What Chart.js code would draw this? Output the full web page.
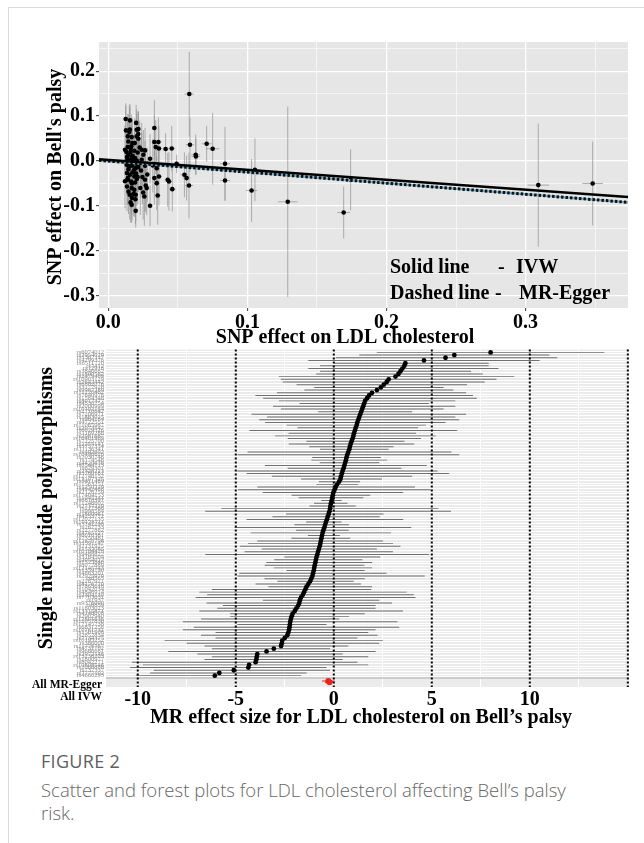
<!DOCTYPE html>
<html>
<head>
<meta charset="utf-8">
<script src="https://cdn.jsdelivr.net/npm/chart.js@4.4.1/dist/chart.umd.min.js"></script>
<style>
html,body{margin:0;padding:0;background:#fff;width:644px;height:843px;overflow:hidden;}
#card{position:absolute;left:8px;top:7px;width:650px;height:850px;border-left:1px solid #d9d9d9;border-top:1px solid #d9d9d9;}
#topWrap{position:absolute;left:0;top:0;width:644px;height:350px;}
#forestWrap{position:absolute;left:0;top:330px;width:644px;height:410px;}
#caption{position:absolute;left:41px;top:750px;width:548px;font-family:"Open Sans",Lato,sans-serif;}
#caption .fig{font-size:18px;line-height:23px;letter-spacing:0.3px;color:#5e5e5e;}
#caption .cap{font-size:18.5px;line-height:23px;margin-top:5px;font-weight:300;color:#666;}
</style>
</head>
<body>
<div id="card"></div>
<div id="topWrap"><canvas id="scatterCanvas"></canvas></div>
<div id="forestWrap"><canvas id="forestCanvas"></canvas></div>
<div id="caption"><div class="fig">FIGURE 2</div><div class="cap">Scatter and forest plots for LDL cholesterol affecting Bell’s palsy risk.</div></div>
<script>
// ---------------- DATA: scatter (SNP effects) ----------------
const snpLdl = [
 0.0125,0.0156,0.0127,0.0151,0.0204,0.0216,0.0168,0.0144,0.0173,0.0204,
 0.0216,0.0139,0.0163,0.0187,0.0211,0.0144,0.0134,0.0168,0.0192,0.0156,
 0.0180,0.0204,0.0228,0.0132,0.0149,0.0173,0.0197,0.0216,0.0134,0.0156,
 0.0173,0.0187,0.0211,0.0139,0.0163,0.0192,0.0134,0.0168,0.0187,0.0154,
 0.0182,0.0197,0.0168,0.0197,0.0240,0.0264,0.0252,0.0240,0.0264,0.0235,
 0.0245,0.0264,0.0269,0.0276,0.0259,0.0300,0.0331,0.0331,0.0360,0.0341,
 0.0364,0.0412,0.0456,0.0348,0.0331,0.0364,0.0348,0.0427,0.0436,0.0460,
 0.0355,0.0491,0.0547,0.0563,0.0580,0.0582,0.0587,0.0628,0.0630,0.0707,
 0.0750,0.0839,0.0839,0.1030,0.1054,0.1290,0.1692,0.1742,0.3091,0.3482,
 0.0140,0.0160,0.0175,0.0150,0.0185,0.0140,0.0200,0.0170,0.0210,0.0130,
 0.0190,0.0155,0.0225,0.0145,0.0195,0.0160,0.0230,0.0120,0.0135,0.0178,
 0.0205,0.0165,0.0250,0.0280,0.0300,0.0320,0.0215,0.0120,0.0145,0.0200,
 0.0170];
const snpBell = [
 0.0935,0.0905,0.0683,0.0645,0.0697,0.0712,0.0534,0.0437,0.0400,0.0549,
 0.0497,0.0311,0.0252,0.0229,0.0192,0.0140,0.0088,0.0103,0.0066,0.0029,
 -0.0008,0.0014,-0.0045,-0.0082,-0.0120,-0.0105,-0.0157,-0.0134,-0.0268,-0.0305,
 -0.0253,-0.0342,-0.0357,-0.0417,-0.0454,-0.0476,-0.0565,-0.0602,-0.0640,-0.0751,
 -0.0729,-0.0751,-0.0974,-0.1108,0.0252,0.0237,0.0140,0.0029,-0.0105,-0.0209,
 -0.0357,-0.0417,-0.0543,-0.0602,-0.0788,-0.0996,0.0735,0.0423,0.0423,0.0311,
 0.0281,0.0267,0.0281,-0.0157,-0.0379,-0.0342,-0.0491,-0.0417,-0.0454,-0.0625,
 -0.0766,-0.0060,-0.0305,-0.0379,-0.0543,0.1492,0.0363,0.0140,0.0103,0.0385,
 0.0274,-0.0060,-0.0432,-0.0654,-0.0194,-0.0907,-0.1145,-0.0417,-0.0535,-0.0500,
 0.055,0.020,0.012,-0.005,-0.020,-0.038,-0.028,-0.050,-0.008,0.020,
 0.040,0.070,0.030,-0.068,-0.085,-0.092,-0.060,-0.045,0.001,0.004,
 -0.040,0.033,-0.070,-0.030,0.005,-0.010,0.060,0.025,-0.018,0.085,
 -0.082];
const snpLdlSe = [
 .0015,.0015,.0012,.0015,.0015,.0015,.0012,.0012,.0013,.0014,
 .0015,.0012,.0012,.0014,.0015,.0012,.0012,.0013,.0014,.0012,
 .0013,.0015,.0016,.0012,.0012,.0013,.0014,.0015,.0012,.0013,
 .0013,.0014,.0015,.0012,.0013,.0014,.0012,.0013,.0014,.0012,
 .0013,.0014,.0013,.0014,.0016,.0017,.0016,.0016,.0017,.0016,
 .0016,.0017,.0017,.0018,.0017,.0018,.0020,.0020,.0021,.0020,
 .0021,.0023,.0024,.0020,.0020,.0021,.0020,.0023,.0023,.0024,
 .0021,.0025,.0028,.0028,.0029,.0034,.0030,.0031,.0031,.0035,
 .0048,.0036,.0036,.0040,.0042,.0070,.0045,.0045,.0077,.0074,
 .0012,.0013,.0013,.0012,.0014,.0012,.0015,.0013,.0015,.0012,
 .0014,.0012,.0016,.0012,.0014,.0013,.0016,.0011,.0012,.0013,
 .0015,.0013,.0016,.0018,.0019,.0020,.0015,.0011,.0012,.0015,
 .0013];
const snpBellSe = [
 .035,.037,.055,.060,.045,.040,.050,.060,.055,.050,
 .060,.060,.050,.050,.055,.060,.055,.045,.050,.060,
 .050,.045,.050,.060,.055,.050,.060,.055,.050,.060,
 .050,.055,.060,.055,.060,.050,.055,.060,.060,.055,
 .050,.060,.040,.037,.060,.050,.055,.060,.055,.060,
 .060,.070,.060,.060,.065,.045,.062,.060,.055,.060,
 .050,.035,.050,.060,.060,.065,.060,.060,.065,.050,
 .065,.020,.050,.050,.073,.094,.060,.045,.040,.040,
 .080,.082,.045,.070,.070,.212,.058,.068,.137,.093,
 .050,.060,.050,.055,.050,.060,.050,.055,.060,.050,
 .055,.050,.060,.050,.055,.045,.060,.060,.050,.055,
 .060,.050,.060,.060,.055,.060,.050,.055,.050,.040,
 .050];
// fitted MR lines
const ivwIntercept = 0.0025, ivwSlope = -0.221;
const eggerIntercept = 0.0000, eggerSlope = -0.246;
// scatter axes
const scatterXMin = -0.0067, scatterXMax = 0.3736;
const scatterYMin = -0.327, scatterYMax = 0.265;
const scatterXTicks = [0, 0.1, 0.2, 0.3];
const scatterXTickLabels = ['0.0', '0.1', '0.2', '0.3'];
const scatterXMinor = [0.05, 0.15, 0.25, 0.35];
const scatterYTicks = [-0.3, -0.2, -0.1, 0, 0.1, 0.2];
const scatterYTickLabels = ['-0.3', '-0.2', '-0.1', '0.0', '0.1', '0.2'];
const scatterYMinor = [-0.25, -0.15, -0.05, 0.05, 0.15, 0.25];

// ---------------- DATA: forest (Wald ratios) ----------------
const snpNames = [
 'rs6074012','rs2954029','rs1367117','rs4299376','rs6511720','rs7412','rs12916','rs3846662','rs1800562','rs2479409',
 'rs10903129','rs2642442','rs6882076','rs3177928','rs9987289','rs11220462','rs7640978','rs1564348','rs8017377','rs4530754',
 'rs2000999','rs10102164','rs2710642','rs7206971','rs1883025','rs964184','rs4722551','rs11065987','rs2073547','rs6029526',
 'rs1169288','rs2081687','rs10401969','rs7225700','rs2255141','rs3757354','rs11136341','rs492602','rs10490626','rs2030746',
 'rs174546','rs4420638','rs6544713','rs629301','rs2328223','rs3780181','rs12748152','rs13107325','rs9411489','rs11563251',
 'rs1250229','rs4942486','rs2126259','rs17404153','rs1045241','rs6818397','rs11246602','rs2737229','rs217386','rs998584',
 'rs1800961','rs4253772','rs12027135','rs10128711','rs3741298','rs267733','rs2277862','rs4765127','rs6016381','rs7350481',
 'rs12670798','rs11591147','rs2131925','rs1532085','rs10184428','rs9488822','rs3184504','rs2954022','rs7575840','rs8077889',
 'rs12145743','rs1359790','rs4883201','rs2925979','rs6565','rs2287921','rs8176720','rs7865618','rs1042034','rs4846914',
 'rs2304130','rs7703051','rs1937','rs9376090','rs6859','rs11603023','rs13315871','rs4148008','rs2902940','rs12801636',
 'rs11057830','rs17145738','rs6831256','rs10761731','rs1501908','rs2652834','rs7134375','rs10195252','rs386000','rs11776767',
 'rs4731702','rs9686661','rs2972146','rs13238203','rs1800977','rs8042271','rs10808546','rs2068888','rs737337','rs7777102',
 'rs4660293'];
const forestEst = [
 8.0,6.15,5.7,4.6,3.65,3.6,3.5,3.4,3.3,3.15,
 2.8,2.7,2.55,2.4,2.2,1.95,1.8,1.7,1.6,1.55,
 1.5,1.45,1.4,1.35,1.3,1.25,1.2,1.17,1.12,1.08,
 1.03,1.0,0.96,0.91,0.86,0.82,0.79,0.74,0.69,0.65,
 0.62,0.58,0.54,0.50,0.45,0.41,0.37,0.34,0.27,0.17,
 0.10,0.04,-0.02,-0.05,-0.08,-0.11,-0.14,-0.17,-0.19,-0.22,
 -0.26,-0.31,-0.35,-0.40,-0.44,-0.48,-0.53,-0.57,-0.60,-0.63,
 -0.66,-0.69,-0.72,-0.76,-0.80,-0.84,-0.88,-0.91,-0.94,-0.97,
 -1.00,-1.02,-1.06,-1.09,-1.15,-1.21,-1.30,-1.39,-1.45,-1.52,
 -1.58,-1.67,-1.73,-1.76,-1.82,-1.91,-1.99,-2.10,-2.15,-2.19,
 -2.22,-2.24,-2.26,-2.28,-2.32,-2.37,-2.50,-2.63,-2.65,-2.69,
 -3.06,-3.43,-3.90,-3.93,-3.95,-3.99,-4.32,-4.36,-5.10,-5.84,
 -6.07];
const forestLo = [
 2.2,1.3,0.1,-1.3,0.0,-0.7,-1.3,-0.7,-0.9,-2.8,
 -2.7,-2.6,-1.9,-1.0,-1.5,-2.9,-4.0,-3.6,-2.8,-1.75,
 -3.1,-2.7,-0.8,-4.2,-3.4,-3.8,-3.5,-2.4,-1.85,-4.3,
 -2.3,-3.0,-2.35,-1.4,-2.3,-1.25,-0.7,-4.4,-4.9,-1.1,
 -1.15,-0.72,-3.51,-2.35,-4.93,-4.45,-3.16,-1.67,-0.76,-0.89,
 -3.9,-4.88,-3.63,-2.15,-1.79,-0.64,-1.01,-1.24,-5.74,-6.56,
 -2.44,-3.13,-4.45,-1.41,-2.01,-5.05,-1.92,-4.24,-1.32,-2.16,
 -3.9,-4.38,-4.79,-3.68,-4.55,-6.56,-2.53,-3.04,-3.44,-3.52,
 -3.06,-2.41,-4.82,-4.92,-3.53,-2.88,-3.99,-3.34,-6.22,-6.86,
 -6.46,-7.05,-3.62,-6.49,-5.66,-5.94,-6.86,-5.29,-5.29,-6.77,
 -7.7,-4.92,-7.14,-7.7,-6.03,-6.77,-6.03,-8.63,-7.51,-6.59,
 -6.22,-8.44,-6.96,-6.22,-6.59,-10.3,-9.74,-10.39,-9.18,-9.37,
 -10.1];
const forestHi = [
 13.8,11.0,11.4,10.5,7.9,7.9,8.4,7.0,7.6,9.2,
 8.3,7.7,6.8,5.6,6.1,6.75,7.1,7.3,6.2,4.85,
 6.2,5.6,4.0,6.75,6.2,6.4,5.7,4.7,4.3,6.3,
 4.2,5.2,4.45,3.6,4.1,3.05,2.8,6.0,6.4,2.4,
 2.71,2.32,4.74,3.45,5.29,5.89,4.0,2.46,1.34,1.25,
 4.14,4.95,3.54,1.86,1.51,0.40,0.70,1.12,5.34,5.98,
 2.54,2.34,3.54,0.40,0.77,3.95,0.76,2.92,0.31,0.84,
 2.51,3.02,3.4,2.2,3.02,4.86,2.37,1.46,1.96,1.56,
 1.95,1.58,2.69,4.64,1.58,1.02,1.39,1.95,1.91,3.71,
 4.08,4.17,2.32,2.97,2.13,2.13,3.53,1.58,0.78,0.28,
 3.25,-0.37,3.34,2.13,1.76,2.23,1.21,2.5,2.32,0.74,
 -0.19,2.13,0.46,1.76,0.46,1.21,1.76,-0.37,-0.19,-1.39,
 -1.67];
const summaryLabels = ['All MR-Egger', 'All IVW'];
const summaryEst = [-0.28, -0.22];
const summaryLo = [-0.60, -0.45];
const summaryHi = [0.04, 0.01];
const forestXMin = -11.62, forestXMax = 15.06;
const forestXTicks = [-10, -5, 0, 5, 10];
const forestXTickLabels = ['-10', '-5', '0', '5', '10'];
const forestXMinor = [-7.5, -2.5, 2.5, 7.5, 12.5, 15];
const forestRefLines = [-10, -5, 0, 5, 10, 15];

// ---------------- helpers & plugins ----------------
const SERIF = '"Liberation Serif", "Times New Roman", Times, serif';
const near = (arr, v) => arr.findIndex(t => Math.abs(t - v) < 1e-9);

const panelBg = {
  id: 'panelBg',
  beforeDraw(chart, args, opts) {
    const {ctx, chartArea: a} = chart;
    ctx.save(); ctx.fillStyle = opts.color; ctx.fillRect(a.left, a.top, a.right - a.left, a.bottom - a.top); ctx.restore();
  }
};
const texts = {
  id: 'texts',
  afterDraw(chart, args, opts) {
    const ctx = chart.ctx;
    (opts.items || []).forEach(t => {
      ctx.save();
      ctx.font = t.font; ctx.fillStyle = t.color || '#000';
      ctx.textAlign = t.align || 'left'; ctx.textBaseline = 'alphabetic';
      ctx.translate(t.x, t.y); if (t.rotate) ctx.rotate(t.rotate);
      ctx.fillText(t.text, 0, 0);
      ctx.restore();
    });
  }
};
const errorBars = {
  id: 'errorBars',
  beforeDatasetsDraw(chart) {
    const {ctx, chartArea: a, scales: {x, y}} = chart;
    ctx.save();
    ctx.beginPath(); ctx.rect(a.left, a.top, a.right - a.left, a.bottom - a.top); ctx.clip();
    ctx.strokeStyle = 'rgba(150,150,150,0.75)'; ctx.lineWidth = 1;
    ctx.beginPath();
    for (let i = 0; i < snpLdl.length; i++) {
      const px = x.getPixelForValue(snpLdl[i]), py = y.getPixelForValue(snpBell[i]);
      ctx.moveTo(px, y.getPixelForValue(snpBell[i] - snpBellSe[i]));
      ctx.lineTo(px, y.getPixelForValue(snpBell[i] + snpBellSe[i]));
      ctx.moveTo(x.getPixelForValue(snpLdl[i] - snpLdlSe[i]), py);
      ctx.lineTo(x.getPixelForValue(snpLdl[i] + snpLdlSe[i]), py);
    }
    ctx.stroke(); ctx.restore();
  }
};
const refLines = {
  id: 'refLines',
  beforeDatasetsDraw(chart) {
    const {ctx, chartArea: a, scales: {y}} = chart;
    const py = y.getPixelForValue(snpNames.length - 0.15);
    ctx.save(); ctx.strokeStyle = '#c2c2c2'; ctx.lineWidth = 1.5;
    ctx.beginPath(); ctx.moveTo(a.left, py); ctx.lineTo(a.right, py); ctx.stroke(); ctx.restore();
  },
  afterDatasetsDraw(chart) {
    const {ctx, chartArea: a, scales: {x}} = chart;
    ctx.save(); ctx.strokeStyle = '#000'; ctx.lineWidth = 2; ctx.setLineDash([2, 2]);
    forestRefLines.forEach(v => {
      const px = x.getPixelForValue(v);
      ctx.beginPath(); ctx.moveTo(px, a.top); ctx.lineTo(px, a.bottom); ctx.stroke();
    });
    ctx.restore();
  }
};

// ---------------- scatter chart ----------------
const scatterPoints = snpLdl.map((v, i) => ({x: v, y: snpBell[i]}));
const ivwLine = [scatterXMin, scatterXMax].map(v => ({x: v, y: ivwIntercept + ivwSlope * v}));
const eggerLine = [scatterXMin, scatterXMax].map(v => ({x: v, y: eggerIntercept + eggerSlope * v}));
const scatterXGrid = scatterXTicks.concat(scatterXMinor).sort((a, b) => a - b);
const scatterYGrid = scatterYTicks.concat(scatterYMinor).sort((a, b) => a - b);
const tickFont = {family: SERIF, size: 20, weight: 'bold'};
const bold20 = 'bold 20px ' + SERIF;

new Chart(document.getElementById('scatterCanvas'), {
  type: 'scatter',
  data: {datasets: [
    {type: 'line', label: 'IVW', data: ivwLine, borderColor: '#000', borderWidth: 2.6, pointRadius: 0, order: 0},
    {type: 'line', label: 'MR-Egger', data: eggerLine, borderColor: '#111', borderWidth: 3, borderDash: [2.5, 2], pointRadius: 0, order: 1},
    {type: 'line', label: 'MR-Egger (base)', data: eggerLine, borderColor: '#6fb2cf', borderWidth: 2.4, pointRadius: 0, order: 2},
    {label: 'SNPs', data: scatterPoints, backgroundColor: '#000', borderColor: '#000', borderWidth: 0, pointRadius: 2.3, order: 3}
  ]},
  options: {
    responsive: true, maintainAspectRatio: false, animation: false, events: [], devicePixelRatio: 1,
    layout: {padding: {left: 0, right: 16, top: 42, bottom: 2}},
    plugins: {
      legend: {display: false}, tooltip: {enabled: false},
      panelBg: {color: '#e6e6e6'},
      texts: {items: [
        {text: 'SNP effect on Bell\'s palsy', x: 61, y: 177, rotate: -Math.PI / 2, align: 'center', font: bold20},
        {text: 'SNP effect on LDL cholesterol', x: 345, y: 343, align: 'center', font: bold20},
        {text: 'Solid line', x: 390, y: 273, font: bold20},
        {text: '-', x: 498, y: 273, font: bold20},
        {text: 'IVW', x: 516, y: 273, font: bold20},
        {text: 'Dashed line', x: 390, y: 299, font: bold20},
        {text: '-', x: 495, y: 299, font: bold20},
        {text: 'MR-Egger', x: 519, y: 299, font: bold20}
      ]}
    },
    scales: {
      x: {
        type: 'linear', min: scatterXMin, max: scatterXMax,
        afterBuildTicks: s => { s.ticks = scatterXGrid.map(v => ({value: v})); },
        afterFit: s => { s.height = 40; },
        border: {display: false},
        grid: {color: '#ffffff', lineWidth: c => near(scatterXTicks, c.tick.value) >= 0 ? 1.3 : 0.6,
               drawTicks: true, tickLength: 3, tickWidth: 1,
               tickColor: c => near(scatterXTicks, c.tick.value) >= 0 ? '#333' : 'rgba(0,0,0,0)'},
        ticks: {autoSkip: false, maxRotation: 0, minRotation: 0, padding: 0, color: '#000', font: tickFont,
                callback: v => { const i = near(scatterXTicks, v); return i < 0 ? '' : scatterXTickLabels[i]; }}
      },
      y: {
        type: 'linear', min: scatterYMin, max: scatterYMax,
        afterBuildTicks: s => { s.ticks = scatterYGrid.map(v => ({value: v})); },
        afterFit: s => { s.width = 99; },
        border: {display: false},
        grid: {color: '#ffffff', lineWidth: c => near(scatterYTicks, c.tick.value) >= 0 ? 1.3 : 0.6,
               drawTicks: true, tickLength: 3, tickWidth: 1,
               tickColor: c => near(scatterYTicks, c.tick.value) >= 0 ? '#333' : 'rgba(0,0,0,0)'},
        ticks: {autoSkip: false, padding: 1, color: '#000', font: tickFont,
                callback: v => { const i = near(scatterYTicks, v); return i < 0 ? '' : scatterYTickLabels[i]; }}
      }
    }
  },
  plugins: [panelBg, errorBars, texts]
});

// ---------------- forest chart ----------------
const SUMMARY_ROW = snpNames.length + 1.2;
const forestXGrid = forestXTicks.concat(forestXMinor).sort((a, b) => a - b);
const rowTicks = snpNames.map((n, i) => i);

new Chart(document.getElementById('forestCanvas'), {
  type: 'scatter',
  data: {datasets: [
    {type: 'scatter', label: 'summary', data: summaryEst.map((v, i) => ({x: v, y: SUMMARY_ROW + (i - 0.5) * 0.5})),
     backgroundColor: '#e8251d', borderColor: '#e8251d', borderWidth: 0, pointRadius: 3, order: 0},
    {type: 'scatter', label: 'SNP estimate', data: forestEst.map((v, i) => ({x: v, y: i})),
     backgroundColor: '#000', borderColor: '#000', borderWidth: 0, pointRadius: 2.4, order: 1},
    {type: 'bar', indexAxis: 'y', grouped: false, label: 'summary CI',
     data: summaryLo.map((lo, i) => ({x: [lo, summaryHi[i]], y: SUMMARY_ROW + (i - 0.5) * 0.5})),
     backgroundColor: '#e8251d', maxBarThickness: 2.5, order: 2},
    {type: 'bar', indexAxis: 'y', grouped: false, label: 'SNP CI',
     data: forestLo.map((lo, i) => ({x: [lo, forestHi[i]], y: i})),
     backgroundColor: '#6f6f6f', maxBarThickness: 1.8, order: 3}
  ]},
  options: {
    responsive: true, maintainAspectRatio: false, animation: false, events: [], devicePixelRatio: 1,
    layout: {padding: {left: 0, right: 15, top: 19.5, bottom: 0}},
    plugins: {
      legend: {display: false}, tooltip: {enabled: false},
      panelBg: {color: '#ebebeb'},
      texts: {items: [
        {text: 'Single nucleotide polymorphisms', x: 52, y: 178, rotate: -Math.PI / 2, align: 'center', font: bold20},
        {text: 'MR effect size for LDL cholesterol on Bell’s palsy', x: 361, y: 393, align: 'center', font: bold20},
        {text: summaryLabels[0], x: 102, y: 358, align: 'right', font: 'bold 11.5px ' + SERIF},
        {text: summaryLabels[1], x: 102, y: 370, align: 'right', font: 'bold 11.5px ' + SERIF}
      ]}
    },
    scales: {
      x: {
        type: 'linear', min: forestXMin, max: forestXMax,
        afterBuildTicks: s => { s.ticks = forestXGrid.map(v => ({value: v})); },
        afterFit: s => { s.height = 53; },
        border: {display: false},
        grid: {color: '#ffffff', lineWidth: 1, drawTicks: false},
        ticks: {autoSkip: false, maxRotation: 0, minRotation: 0, padding: 1, color: '#000', font: tickFont,
                callback: v => { const i = near(forestXTicks, v); return i < 0 ? '' : forestXTickLabels[i]; }}
      },
      y: {
        type: 'linear', reverse: true, min: -0.55, max: snpNames.length + 2.7,
        afterBuildTicks: s => { s.ticks = rowTicks.map(v => ({value: v})); },
        afterFit: s => { s.width = 106; },
        border: {display: false},
        grid: {color: '#ffffff', lineWidth: 1, drawTicks: false},
        ticks: {autoSkip: false, padding: 2, color: '#8a8a8a', font: {family: SERIF, size: 6.5},
                callback: v => snpNames[v] || ''}
      }
    }
  },
  plugins: [panelBg, refLines, texts]
});
</script>
</body>
</html>
